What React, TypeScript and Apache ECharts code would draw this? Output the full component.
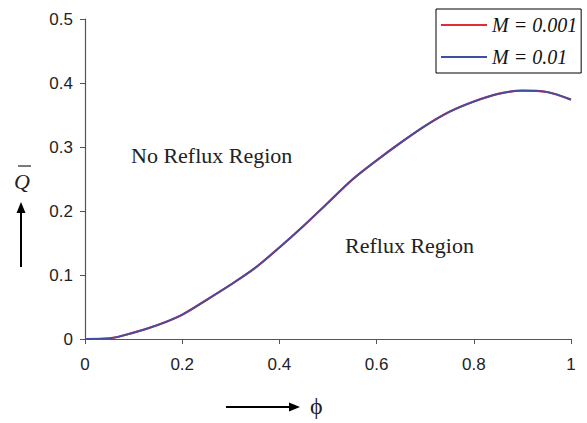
import React, { useEffect, useRef } from "react";
import * as echarts from "echarts";

const phi = [0, 0.05, 0.1, 0.15, 0.2, 0.25, 0.3, 0.35, 0.4, 0.45, 0.5, 0.55, 0.6, 0.65, 0.7, 0.75, 0.8, 0.85, 0.9, 0.95, 1.0];
const qM001 = [0, 0.001, 0.010, 0.022, 0.038, 0.061, 0.085, 0.111, 0.143, 0.177, 0.213, 0.249, 0.279, 0.307, 0.333, 0.355, 0.371, 0.383, 0.388, 0.386, 0.374];
const qM01 = [0, 0.001, 0.010, 0.022, 0.038, 0.061, 0.085, 0.111, 0.143, 0.177, 0.213, 0.249, 0.279, 0.307, 0.333, 0.355, 0.371, 0.383, 0.388, 0.386, 0.374];
const seriesNames = ["M = 0.001", "M = 0.01"];
const xTicks = [0, 0.2, 0.4, 0.6, 0.8, 1];
const yTicks = [0, 0.1, 0.2, 0.3, 0.4, 0.5];

export default function App() {
  const ref = useRef<HTMLDivElement>(null);
  useEffect(() => {
    if (!ref.current) return;
    const chart = echarts.init(ref.current, null, { renderer: "svg" });
    const serif = "'Liberation Serif', 'Times New Roman', 'DejaVu Serif', serif";
    const sans = "'Liberation Sans', Arial, sans-serif";
    chart.setOption({
      animation: false,
      backgroundColor: "#fff",
      grid: { left: 85, right: 16, top: 19, bottom: 84, containLabel: false },
      legend: {
        orient: "vertical",
        left: 436,
        top: 9,
        padding: [6, 4, 6, 5],
        itemGap: 12,
        itemWidth: 46,
        itemHeight: 2,
        icon: "rect",
        borderColor: "#000",
        borderWidth: 1,
        backgroundColor: "#fff",
        data: seriesNames,
        textStyle: { fontFamily: serif, fontStyle: "italic", fontSize: 20, color: "#111", lineHeight: 20, padding: [0, 0, 0, 0] },
      },
      xAxis: {
        type: "value",
        min: xTicks[0],
        max: xTicks[xTicks.length - 1],
        interval: 0.2,
        axisLine: { show: true, lineStyle: { color: "#555", width: 1.2 } },
        axisTick: { show: true, length: 5, lineStyle: { color: "#555" } },
        splitLine: { show: false },
        axisLabel: { margin: 17, fontFamily: sans, fontSize: 17, color: "#222" },
      },
      yAxis: {
        type: "value",
        min: yTicks[0],
        max: yTicks[yTicks.length - 1],
        interval: 0.1,
        axisLine: { show: true, lineStyle: { color: "#555", width: 1.2 } },
        axisTick: { show: true, length: 5, lineStyle: { color: "#555" } },
        splitLine: { show: false },
        axisLabel: { margin: 12, fontFamily: sans, fontSize: 17, color: "#222" },
      },
      series: [
        {
          name: seriesNames[0],
          type: "line",
          data: phi.map((x, i) => [x, qM001[i]]),
          smooth: 0.3,
          symbol: "none",
          lineStyle: { color: "#e32b36", width: 2.2 },
          itemStyle: { color: "#e32b36" },
        },
        {
          name: seriesNames[1],
          type: "line",
          data: phi.map((x, i) => [x, qM01[i]]),
          smooth: 0.3,
          symbol: "none",
          lineStyle: { color: "#3f4fa3", width: 1.8 },
          itemStyle: { color: "#3f4fa3" },
        },
      ],
      graphic: [
        { type: "text", left: 131, top: 144, style: { text: "No Reflux Region", font: `22px ${serif}`, fill: "#222" } },
        { type: "text", left: 345, top: 234, style: { text: "Reflux Region", font: `22px ${serif}`, fill: "#222" } },
        { type: "text", left: 14, top: 170, style: { text: "Q", font: `italic 22px ${serif}`, fill: "#222" } },
        { type: "line", shape: { x1: 18, y1: 166, x2: 31, y2: 166 }, style: { stroke: "#222", lineWidth: 1.2 } },
        { type: "line", shape: { x1: 21, y1: 267, x2: 21, y2: 210 }, style: { stroke: "#000", lineWidth: 2 } },
        { type: "polygon", shape: { points: [[21, 202], [16.5, 213], [25.5, 213]] }, style: { fill: "#000" } },
        { type: "line", shape: { x1: 226, y1: 407, x2: 291, y2: 407 }, style: { stroke: "#000", lineWidth: 2 } },
        { type: "polygon", shape: { points: [[300, 407], [289, 402.5], [289, 411.5]] }, style: { fill: "#000" } },
        { type: "text", left: 310, top: 394, style: { text: "ϕ", font: `24px ${serif}`, fill: "#222" } },
      ],
    });
    return () => chart.dispose();
  }, []);
  return <div ref={ref} style={{ width: 587, height: 423, position: "absolute", left: 0, top: 0 }} />;
}
